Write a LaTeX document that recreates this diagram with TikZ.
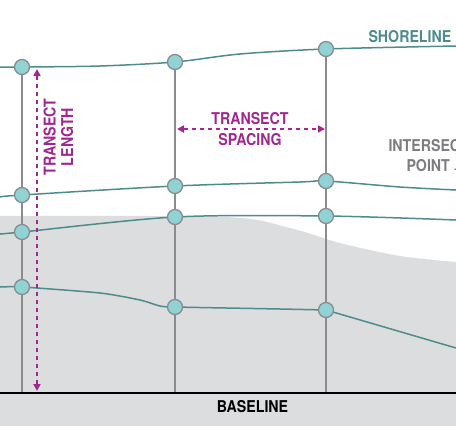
\documentclass[tikz,border=0pt]{standalone}
\usepackage{fontspec}
\newfontfamily\labelfont{TeX Gyre Heros}[FakeStretch=0.87]
\usetikzlibrary{arrows.meta,positioning}
\definecolor{shoreteal}{HTML}{4E8B8D}
\definecolor{pointfill}{HTML}{8FD3D5}
\definecolor{transgray}{HTML}{8B8C8E}
\definecolor{measurepink}{HTML}{A0288F}
\definecolor{textgray}{HTML}{7C7D80}
\definecolor{landgray}{HTML}{DCDDDF}

\begin{document}
\begin{tikzpicture}[
    x=1pt, y=-1pt,
    font=\labelfont\bfseries\fontsize{16.3}{19}\selectfont,
    shore/.style={
        draw=shoreteal,
        line width=1.5pt
    },
    transect/.style={
        draw=transgray,
        line width=2.8pt
    },
    ipoint/.style={
        circle,
        draw=transgray,
        fill=pointfill,
        minimum size=15pt,
        inner sep=0pt,
        line width=1.3pt
    },
    measure/.style={
        {Triangle[length=7pt,width=7pt]}-{Triangle[length=7pt,width=7pt]},
        draw=measurepink,
        line width=1.8pt,
        dash pattern=on 4.5pt off 3.5pt
    }
]
\useasboundingbox (0,0) rectangle (456,426);
\clip (0,0) rectangle (456,426);

% Land behind the shorelines
\fill[landgray] plot[smooth,tension=0.5] coordinates {(0,216) (225,217) (290,228) (340,243) (400,256) (456,262)}
    -- (456,426) -- (0,426) -- cycle;

% Intersection points (transect / shoreline)
\foreach \t/\x/\ya/\yb/\yc/\yd in {1/22/67/195/232/287, 2/175/62/186/217/307, 3/326/49/181/216/310} {
    \coordinate (t\t s1) at (\x,\ya);
    \coordinate (t\t s2) at (\x,\yb);
    \coordinate (t\t s3) at (\x,\yc);
    \coordinate (t\t s4) at (\x,\yd);
    \coordinate (b\t) at (\x,393);
}

% Shorelines
\draw[shore] plot[smooth,tension=0.5] coordinates {(0,67) (t1s1) (100,66) (t2s1) (240,54) (t3s1) (456,46)};
\draw[shore] plot[smooth,tension=0.5] coordinates {(0,197) (t1s2) (t2s2) (300,182) (t3s2) (400,187) (456,190)};
\draw[shore] plot[smooth,tension=0.5] coordinates {(0,234) (t1s3) (t2s3) (t3s3) (456,220)};
\draw[shore] plot[smooth,tension=0.4] coordinates {(0,287) (t1s4) (100,293) (140,300) (160,306) (t2s4) (280,309) (t3s4)};
\draw[shore] (t3s4) -- (456,348);

% Transects
\foreach \t in {1,2,3} {
    \draw[transect] (t\t s1) -- (b\t);
}

% Baseline
\coordinate (bl) at (0,393);
\coordinate (br) at (456,393);
\draw[black,line width=2.5pt] (bl) -- (br);
\node[text=black] (baselbl) at (252.5,407) {BASELINE};

\foreach \t in {1,2,3} {
    \foreach \s in {1,2,3,4} {
        \node[ipoint] (p\t\s) at (t\t s\s) {};
    }
}

% Transect length
\coordinate (lentop) at (37,69);
\coordinate (lenbot) at (37,391);
\draw[measure] (lenbot) -- (lentop);
\node[text=measurepink,rotate=90,align=center] (lenlbl) at (58.5,137) {TRANSECT\\[-1.5pt]LENGTH};

% Transect spacing
\coordinate (spleft) at (177,129);
\coordinate (spright) at (325,129);
\draw[measure] (spleft) -- (spright);
\node[text=measurepink] (sptop) at (250,118.5) {TRANSECT};
\node[text=measurepink] (spbot) at (250,139.5) {SPACING};

% Labels
\node[text=shoreteal,anchor=west] (shorelbl) at (365,36.5) {SHORELINE};
\node[text=textgray,anchor=west] (intlbl) at (385,146) {INTERSECTION};
\node[text=textgray,anchor=west] (pointlbl) at (403,166) {POINT};
\coordinate (hookend) at (462,177);
\draw[textgray,line width=1.2pt] ([xshift=1pt,yshift=-3pt]pointlbl.east) to[out=0,in=120] (hookend);

\end{tikzpicture}
\end{document}
